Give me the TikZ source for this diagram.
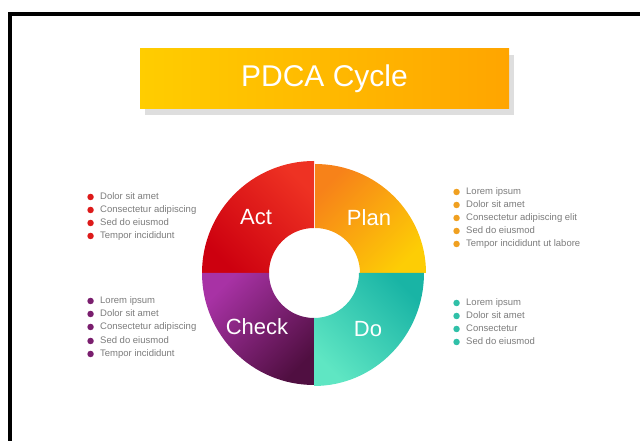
\documentclass[tikz,border=0pt]{standalone}
\usepackage{fontspec}
\setmainfont{Liberation Sans}
\usetikzlibrary{shadows}

\definecolor{actlight}{HTML}{EE3223}
\definecolor{actdark}{HTML}{CD000F}
\definecolor{planlight}{HTML}{F78219}
\definecolor{plandark}{HTML}{FDCD05}
\definecolor{checklight}{HTML}{A832A5}
\definecolor{checkdark}{HTML}{500F41}
\definecolor{dolight}{HTML}{5FE6C3}
\definecolor{dodark}{HTML}{19B4A5}
\definecolor{titleleft}{HTML}{FFCD00}
\definecolor{titleright}{HTML}{FFA500}
\definecolor{shadowgray}{HTML}{DEDEDE}
\definecolor{listgray}{HTML}{7C7C7C}
\definecolor{dotred}{HTML}{DD1A1A}
\definecolor{dotorange}{HTML}{F0A020}
\definecolor{dotpurple}{HTML}{7A1E6E}
\definecolor{dotteal}{HTML}{30C0A8}

\tikzset{% pixel grid, y upwards
  titlebox/.style={minimum width=369pt, minimum height=60pt, inner sep=0pt,
    left color=titleleft, right color=titleright, text=white,
    font=\fontsize{30}{30}\selectfont,
    drop shadow={shadow xshift=5pt, shadow yshift=-6pt, fill=shadowgray, opacity=1}},
  part/.style={text=white, font=\fontsize{22}{22}\selectfont, inner sep=0pt},
  item/.style={anchor=west, inner sep=0pt, text=listgray,
    text height=6.5pt, text depth=1.8pt, font=\fontsize{9.5}{9.5}\selectfont,
    label={[circle, fill=#1, minimum size=6.5pt, inner sep=0pt, label distance=6pt]left:{}}},
}

\begin{document}
\begin{tikzpicture}[x=1pt, y=1pt]
  \useasboundingbox (0,0) rectangle (640,441);
  % frame
  \draw[line width=4pt] (10,-20) -- (10,426.5) -- (660,426.5);
  % title
  \node[titlebox] (title) at (324.5,362) {PDCA Cycle};
  % ring parts, centre (314,168)
  \shade[top color=actlight, bottom color=actdark, shading angle=-45]
    (202,168) arc[start angle=180, end angle=90, radius=112]
    -- (314,213) arc[start angle=90, end angle=180, radius=45] -- cycle;
  \shade[top color=planlight, bottom color=plandark, shading angle=45]
    (315,277) arc[start angle=90, end angle=0, x radius=111, y radius=109]
    -- (360,168) arc[start angle=0, end angle=90, radius=45] -- cycle;
  \shade[top color=checklight, bottom color=checkdark, shading angle=45]
    (202,168) arc[start angle=180, end angle=270, radius=112]
    -- (314,123) arc[start angle=270, end angle=180, radius=45] -- cycle;
  \shade[top color=dolight, bottom color=dodark, shading angle=135]
    (314,55) arc[start angle=270, end angle=360, x radius=110, y radius=113]
    -- (359,168) arc[start angle=0, end angle=-90, radius=45] -- cycle;
  \node[part] (act) at (256,224) {Act};
  \node[part] (plan) at (369,223) {Plan};
  \node[part] (check) at (257,114) {Check};
  \node[part] (do) at (368,112) {Do};
  % lists
  \node[item=dotred] (a1) at (100,244) {Dolor sit amet};
  \node[item=dotred] (a2) at (100,231) {Consectetur adipiscing};
  \node[item=dotred] (a3) at (100,218) {Sed do eiusmod};
  \node[item=dotred] (a4) at (100,205) {Tempor incididunt};
  \node[item=dotorange] (p1) at (466,249) {Lorem ipsum};
  \node[item=dotorange] (p2) at (466,236) {Dolor sit amet};
  \node[item=dotorange] (p3) at (466,223) {Consectetur adipiscing elit};
  \node[item=dotorange] (p4) at (466,210) {Sed do eiusmod};
  \node[item=dotorange] (p5) at (466,197) {Tempor incididunt ut labore};
  \node[item=dotpurple] (c1) at (100,140) {Lorem ipsum};
  \node[item=dotpurple] (c2) at (100,127) {Dolor sit amet};
  \node[item=dotpurple] (c3) at (100,114) {Consectetur adipiscing};
  \node[item=dotpurple] (c4) at (100,100) {Sed do eiusmod};
  \node[item=dotpurple] (c5) at (100,87) {Tempor incididunt};
  \node[item=dotteal] (d1) at (466,138) {Lorem ipsum};
  \node[item=dotteal] (d2) at (466,125) {Dolor sit amet};
  \node[item=dotteal] (d3) at (466,112) {Consectetur};
  \node[item=dotteal] (d4) at (466,99) {Sed do eiusmod};
\end{tikzpicture}
\end{document}
